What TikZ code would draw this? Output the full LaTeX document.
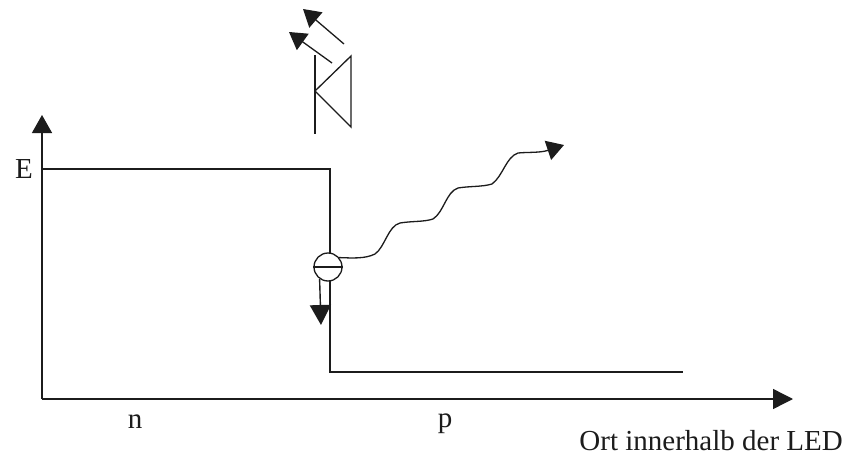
\documentclass[tikz,border=0pt]{standalone}
\usepackage{fontspec}
\setmainfont{Liberation Serif}
\usetikzlibrary{arrows.meta}
\definecolor{ink}{HTML}{1C1C1C}
\tikzset{
  x=1pt,y=-1pt,
  ln/.style={draw=ink,line width=1.4pt},
  thin ln/.style={draw=ink,line width=1.3pt},
  head/.style={-{Triangle[length=#1,width=20pt]}},
  lab/.style={text=ink,inner sep=0pt,font=\fontsize{29}{31}\selectfont},
  electron/.style={circle,draw=ink,line width=1.3pt,fill=white,minimum size=28pt,inner sep=0pt}
}
\begin{document}
\begin{tikzpicture}
\useasboundingbox[fill=white] (0,0) rectangle (847,455);
% named points
\coordinate (o) at (42,399);
\coordinate (ytip) at (42,115);
\coordinate (xtip) at (793,399);
\coordinate (hs) at (42,169);
\coordinate (hc) at (330,169);
\coordinate (lc) at (330,372);
\coordinate (le) at (683,372);
\coordinate (barT) at (315,55);
\coordinate (barB) at (315,134);
\coordinate (triA) at (315,91);
\coordinate (triT) at (351,56);
\coordinate (triB) at (351,127);
\coordinate (l1s) at (344,44);
\coordinate (l1t) at (303,9);
\coordinate (l2s) at (332,63);
\coordinate (l2t) at (289,32);
\coordinate (dt) at (321,325);
% axes
\draw[ln,head=18pt] (o) -- (ytip);
\draw[ln,head=20pt] (o) -- (xtip);
% band
\draw[ln] (hs) -- (hc) -- (lc) -- (le);
% LED
\draw[ln] (barT) -- (barB);
\draw[thin ln] (triA) -- (triT) -- (triB) -- cycle;
\draw[thin ln,-{Triangle[length=17pt,width=20pt]}] (l1s) -- (l1t);
\draw[thin ln,-{Triangle[length=17pt,width=20pt]}] (l2s) -- (l2t);
% electron
\node[electron] (el) at (328,267) {};
\draw[ln] (el.west) -- (el.east);
\draw[ln,-{Triangle[length=20pt,width=21pt]}] (el.235) -- (dt);
% photon
\coordinate (ph) at (564,145);
\draw[thin ln,-{Triangle[length=17pt,width=20pt]}] (el.40) .. controls (352,258) and (365,259) .. (375,254)
  .. controls (385,247) and (388,226) .. (400,223)
  .. controls (412,221) and (424,222) .. (433,219)
  .. controls (444,212) and (446,192) .. (458,188)
  .. controls (470,186) and (482,187) .. (492,184)
  .. controls (503,176) and (506,157) .. (518,153)
  .. controls (528,152) and (540,153) .. (ph);
% labels
\node[lab] (E) at (24,169) {E};
\node[lab] (n) at (135,422) {n};
\node[lab] (p) at (445,424) {p};
\node[lab,anchor=base east] (ort) at (843,450) {Ort innerhalb der LED};
\end{tikzpicture}
\end{document}
